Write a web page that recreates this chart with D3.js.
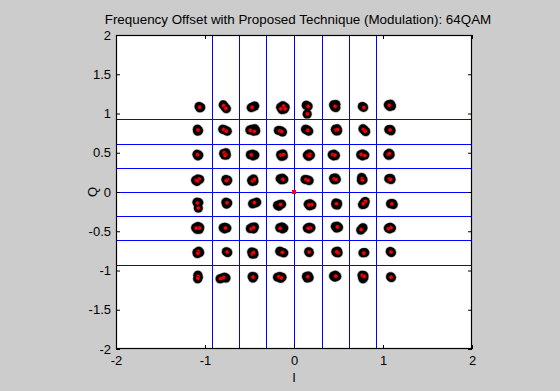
<!DOCTYPE html>
<html>
<head>
<meta charset="utf-8">
<script src="https://cdn.jsdelivr.net/npm/d3@7"></script>
<style>
  html, body { margin: 0; padding: 0; background: #cccccc; }
  svg { display: block; }
  text { font-family: "Liberation Sans", Arial, sans-serif; fill: #000; }
</style>
</head>
<body>
<svg id="chart" width="560" height="391"></svg>
<script>
// Axis tick values and labels
const xTicks = [-2, -1, 0, 1, 2];
const xTickLabels = ["-2", "-1", "0", "1", "2"];
const yTicks = [-2, -1.5, -1, -0.5, 0, 0.5, 1, 1.5, 2];
const yTickLabels = ["-2", "-1.5", "-1", "-0.5", "0", "0.5", "1", "1.5", "2"];

// 64QAM decision boundaries (I and Q)
const boundaries = [-0.926, -0.617, -0.309, 0, 0.309, 0.617, 0.926];

// Received symbols (black circles), [I, Q]
const receivedSymbols = [
  // Q ≈ 1.08
  [-1.066,1.090],[-1.048,1.078],[-1.058,1.072],
  [-0.795,1.110],[-0.778,1.085],[-0.760,1.062],
  [-0.480,1.075],[-0.460,1.085],[-0.442,1.095],
  [-0.150,1.080],[-0.125,1.100],[-0.100,1.080],[-0.135,1.050],[-0.110,1.055],
  [0.138,1.105],[0.158,1.092],[0.148,0.994],
  [0.445,1.110],[0.470,1.115],[0.455,1.085],[0.470,1.075],[0.458,1.100],
  [0.768,1.090],[0.782,1.078],
  [1.060,1.110],[1.085,1.118],[1.095,1.095],[1.075,1.090],
  // Q ≈ 0.77
  [-1.085,0.800],[-1.072,0.782],[-1.082,0.775],
  [-0.800,0.800],[-0.775,0.790],[-0.750,0.775],
  [-0.495,0.790],[-0.470,0.800],[-0.440,0.805],[-0.455,0.775],[-0.430,0.780],
  [-0.175,0.785],[-0.150,0.780],[-0.130,0.765],
  [0.130,0.800],[0.150,0.790],[0.165,0.775],
  [0.465,0.800],[0.485,0.805],[0.490,0.780],[0.475,0.778],
  [0.775,0.805],[0.790,0.790],[0.805,0.770],
  [1.065,0.795],[1.085,0.795],[1.090,0.780],
  // Q ≈ 0.46
  [-1.090,0.480],[-1.070,0.470],[-1.080,0.460],
  [-0.790,0.490],[-0.765,0.500],[-0.780,0.470],[-0.760,0.470],
  [-0.490,0.475],[-0.465,0.480],[-0.440,0.470],[-0.460,0.460],
  [-0.150,0.475],[-0.125,0.485],[-0.120,0.460],[-0.140,0.455],
  [0.150,0.470],[0.170,0.485],[0.185,0.470],[0.165,0.455],
  [0.430,0.475],[0.450,0.480],[0.465,0.465],[0.445,0.460],
  [0.750,0.475],[0.770,0.485],[0.795,0.470],[0.770,0.460],
  [1.055,0.480],[1.070,0.495],[1.080,0.478],[1.065,0.468],
  // Q ≈ 0.15
  [-1.105,0.150],[-1.080,0.165],[-1.060,0.160],[-1.090,0.135],
  [-0.765,0.160],[-0.745,0.150],[-0.755,0.140],
  [-0.475,0.150],[-0.455,0.165],[-0.450,0.140],[-0.470,0.135],
  [-0.155,0.170],[-0.130,0.175],[-0.115,0.160],[-0.140,0.155],
  [0.125,0.160],[0.150,0.155],[0.170,0.145],
  [0.445,0.175],[0.465,0.178],[0.475,0.160],[0.455,0.155],
  [0.760,0.185],[0.770,0.165],[0.758,0.150],[0.775,0.155],
  [1.065,0.170],[1.085,0.172],[1.090,0.158],
  // Q ≈ -0.15
  [-1.090,-0.130],[-1.070,-0.135],[-1.080,-0.150],[-1.075,-0.205],
  [-0.765,-0.130],[-0.745,-0.140],[-0.758,-0.155],
  [-0.465,-0.150],[-0.440,-0.140],[-0.420,-0.130],
  [-0.185,-0.170],[-0.160,-0.160],[-0.140,-0.155],[-0.170,-0.180],
  [0.160,-0.155],[0.180,-0.150],[0.200,-0.165],[0.175,-0.175],
  [0.470,-0.140],[0.490,-0.145],[0.485,-0.165],[0.470,-0.160],
  [0.800,-0.120],[0.785,-0.140],[0.770,-0.160],[0.790,-0.155],
  [1.085,-0.150],[1.105,-0.145],[1.115,-0.160],
  // Q ≈ -0.46
  [-1.105,-0.455],[-1.080,-0.440],[-1.060,-0.450],[-1.090,-0.475],[-1.065,-0.475],
  [-0.795,-0.455],[-0.775,-0.450],[-0.755,-0.460],[-0.780,-0.470],
  [-0.490,-0.465],[-0.470,-0.450],[-0.445,-0.445],[-0.455,-0.470],
  [-0.160,-0.455],[-0.135,-0.445],[-0.115,-0.460],[-0.130,-0.470],
  [0.150,-0.460],[0.170,-0.450],[0.190,-0.455],[0.170,-0.470],
  [0.465,-0.440],[0.485,-0.435],[0.500,-0.450],[0.480,-0.460],
  [0.775,-0.455],[0.762,-0.470],[0.750,-0.485],
  [1.060,-0.460],[1.080,-0.450],[1.095,-0.460],[1.075,-0.470],
  // Q ≈ -0.77
  [-1.090,-0.770],[-1.070,-0.755],[-1.060,-0.770],[-1.085,-0.785],
  [-0.760,-0.760],[-0.745,-0.770],
  [-0.475,-0.765],[-0.455,-0.770],[-0.450,-0.790],[-0.468,-0.790],
  [-0.160,-0.755],[-0.140,-0.765],[-0.115,-0.775],
  [0.165,-0.760],[0.172,-0.770],
  [0.470,-0.760],[0.490,-0.755],[0.495,-0.775],[0.478,-0.770],
  [0.775,-0.775],[0.795,-0.772],
  [1.082,-0.758],[1.095,-0.770],
  // Q ≈ -1.08
  [-1.080,-1.060],[-1.075,-1.085],[-1.082,-1.105],
  [-0.830,-1.105],[-0.805,-1.095],[-0.780,-1.085],[-0.765,-1.095],
  [-0.470,-1.075],[-0.452,-1.080],[-0.462,-1.095],
  [-0.185,-1.085],[-0.160,-1.075],[-0.135,-1.085],[-0.150,-1.100],
  [0.140,-1.075],[0.160,-1.070],[0.170,-1.090],[0.150,-1.095],
  [0.445,-1.070],[0.465,-1.060],[0.480,-1.075],[0.460,-1.085],
  [0.765,-1.060],[0.785,-1.065],[0.770,-1.085],[0.785,-1.090],[0.775,-1.105],
  [1.085,-1.080],[1.095,-1.090]
];

// Offset-compensated symbols (red points), [I, Q]
const compensatedSymbols = [
  [-1.062,1.080],[-0.790,1.100],[-0.765,1.065],[-0.470,1.078],
  [-0.148,1.060],[-0.115,1.095],[-0.100,1.060],[0.160,1.090],[0.150,0.994],
  [0.462,1.090],[0.785,1.075],[1.070,1.105],
  [-1.078,0.790],[-0.790,0.795],[-0.760,0.775],[-0.490,0.785],[-0.445,0.770],
  [-0.160,0.778],[-0.140,0.770],[0.155,0.785],[0.470,0.790],[0.490,0.795],
  [0.780,0.795],[0.800,0.775],[1.080,0.790],
  [-1.085,0.475],[-0.785,0.500],[-0.765,0.480],[-0.775,0.465],[-0.480,0.472],
  [-0.148,0.470],[-0.118,0.478],[0.158,0.468],[0.180,0.480],[0.172,0.458],
  [0.435,0.478],[0.460,0.470],[0.755,0.480],[0.795,0.465],[1.058,0.478],[1.072,0.490],
  [-1.100,0.150],[-1.065,0.165],[-1.085,0.140],[-0.745,0.155],[-0.760,0.145],
  [-0.465,0.140],[-0.445,0.160],[-0.125,0.160],[0.135,0.158],[0.160,0.148],
  [0.450,0.168],[0.472,0.158],[0.765,0.170],[0.770,0.150],[1.070,0.165],[1.085,0.158],
  [-1.085,-0.140],[-1.075,-0.205],[-0.752,-0.138],[-0.445,-0.135],[-0.150,-0.160],
  [0.200,-0.160],[0.168,-0.165],[0.478,-0.150],[0.802,-0.118],[0.778,-0.150],[1.100,-0.152],
  [-1.060,-0.460],[-1.100,-0.460],[-0.770,-0.460],[-0.480,-0.470],[-0.455,-0.455],
  [-0.155,-0.462],[0.185,-0.460],[0.160,-0.462],[0.488,-0.445],[0.755,-0.478],
  [1.062,-0.468],[1.090,-0.455],
  [-1.075,-0.760],[-1.080,-0.780],[-0.752,-0.765],[-0.470,-0.790],[-0.455,-0.772],
  [-0.130,-0.770],[0.170,-0.765],[0.498,-0.778],[0.480,-0.762],[0.785,-0.778],[1.090,-0.765],
  [-1.078,-1.075],[-1.080,-1.100],[-0.825,-1.105],[-0.790,-1.090],[-0.460,-1.085],
  [-0.170,-1.080],[-0.140,-1.095],[0.155,-1.080],[0.470,-1.072],[0.768,-1.062],
  [0.790,-1.075],[1.090,-1.085]
];

// Residual point at the origin
const originPoint = [[0, 0]];

const titleText = "Frequency Offset with Proposed Technique (Modulation): 64QAM";
const xLabel = "I";
const yLabel = "Q";

const svg = d3.select("#chart");
const W = 560, H = 391;
const plot = { left: 116, right: 472, top: 35, bottom: 349 };

svg.append("rect").attr("width", W).attr("height", H).attr("fill", "#cccccc");

const x = d3.scaleLinear().domain([-2, 2]).range([plot.left, plot.right]);
const y = d3.scaleLinear().domain([-2, 2]).range([plot.bottom, plot.top]);

// Plot area
svg.append("rect")
  .attr("x", plot.left).attr("y", plot.top)
  .attr("width", plot.right - plot.left).attr("height", plot.bottom - plot.top)
  .attr("fill", "#ffffff");

const clipId = "plotclip";
svg.append("clipPath").attr("id", clipId).append("rect")
  .attr("x", plot.left).attr("y", plot.top)
  .attr("width", plot.right - plot.left).attr("height", plot.bottom - plot.top);

const g = svg.append("g").attr("clip-path", `url(#${clipId})`);

// Decision boundary grid
g.selectAll("line.vb").data(boundaries).join("line")
  .attr("class", "vb")
  .attr("x1", d => Math.round(x(d)) + 0.5).attr("x2", d => Math.round(x(d)) + 0.5)
  .attr("y1", plot.top).attr("y2", plot.bottom)
  .attr("stroke", "#0000ff").attr("stroke-width", 1);
g.selectAll("line.hb").data(boundaries).join("line")
  .attr("class", "hb")
  .attr("y1", d => Math.round(y(d)) + 0.5).attr("y2", d => Math.round(y(d)) + 0.5)
  .attr("x1", plot.left).attr("x2", plot.right)
  .attr("stroke", "#0000ff").attr("stroke-width", 1);

// Received symbols: light rim underneath, then solid black markers
g.selectAll("circle.halo").data(receivedSymbols).join("circle")
  .attr("class", "halo")
  .attr("cx", d => x(d[0])).attr("cy", d => y(d[1]))
  .attr("r", 5.2)
  .attr("fill", "#b0b0b0");
g.selectAll("circle.rx").data(receivedSymbols).join("circle")
  .attr("class", "rx")
  .attr("cx", d => x(d[0])).attr("cy", d => y(d[1]))
  .attr("r", 4.5)
  .attr("fill", "#000");

// Compensated symbols
g.selectAll("circle.cp").data(compensatedSymbols).join("circle")
  .attr("class", "cp")
  .attr("cx", d => x(d[0])).attr("cy", d => y(d[1]))
  .attr("r", 2.1)
  .attr("fill", "#ff0000")
  .attr("stroke", "#300").attr("stroke-width", 0.5);

g.selectAll("rect.origin").data(originPoint).join("rect")
  .attr("class", "origin")
  .attr("x", d => x(d[0]) - 2).attr("y", d => y(d[1]) - 2)
  .attr("width", 4).attr("height", 4)
  .attr("fill", "#ff0000");

// Axes
const axisG = svg.append("g");
const bottomAxis = d3.axisBottom(x).tickValues(xTicks).tickSize(-4).tickPadding(7)
  .tickFormat((d, i) => xTickLabels[i]);
const topAxis = d3.axisTop(x).tickValues(xTicks).tickSize(-4).tickFormat("");
const leftAxis = d3.axisLeft(y).tickValues(yTicks).tickSize(-4).tickPadding(5)
  .tickFormat((d, i) => yTickLabels[i]);
const rightAxis = d3.axisRight(y).tickValues(yTicks).tickSize(-4).tickFormat("");

function styleAxis(sel) {
  sel.select(".domain").remove();
  sel.selectAll(".tick line").attr("stroke", "#000");
  sel.selectAll(".tick text").attr("font-size", 13)
    .attr("font-family", "Liberation Sans, Arial, sans-serif").attr("fill", "#000");
}
axisG.append("g").attr("transform", `translate(0,${plot.bottom})`).call(bottomAxis).call(styleAxis);
axisG.append("g").attr("transform", `translate(0,${plot.top})`).call(topAxis).call(styleAxis);
axisG.append("g").attr("transform", `translate(${plot.left},0)`).call(leftAxis).call(styleAxis);
axisG.append("g").attr("transform", `translate(${plot.right},0)`).call(rightAxis).call(styleAxis);

// Axes box
svg.append("rect")
  .attr("x", plot.left + 0.5).attr("y", plot.top + 0.5)
  .attr("width", plot.right - plot.left - 1).attr("height", plot.bottom - plot.top - 1)
  .attr("fill", "none").attr("stroke", "#000").attr("stroke-width", 1.2);

// Title and labels
svg.append("text")
  .attr("x", 298).attr("y", 24)
  .attr("text-anchor", "middle").attr("font-size", 13.4)
  .text(titleText);
svg.append("text")
  .attr("x", x(0)).attr("y", 382)
  .attr("text-anchor", "middle").attr("font-size", 13)
  .text(xLabel);
svg.append("text")
  .attr("transform", `translate(97,${y(0)}) rotate(-90)`)
  .attr("text-anchor", "middle").attr("font-size", 13)
  .text(yLabel);
</script>
</body>
</html>
